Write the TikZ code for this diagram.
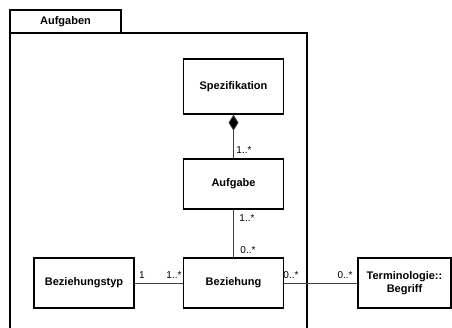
\documentclass[tikz,border=0pt]{standalone}
\usepackage{fontspec}
\setmainfont{Liberation Sans}
\usetikzlibrary{arrows.meta}
\begin{document}
\begin{tikzpicture}[x=1pt,y=-1pt,
  klasse/.style={draw, line width=1.3pt, minimum width=100pt, minimum height=50pt,
    align=center, inner sep=0pt, font=\bfseries\fontsize{11}{12.5}\selectfont},
  verbindung/.style={line width=0.8pt, draw=black!75},
  mult/.style={inner sep=0pt, font=\fontsize{10}{11}\selectfont}]
\useasboundingbox (0,0) rectangle (452,328);

% Paket
\node[draw, line width=1.3pt, minimum width=111pt, minimum height=23pt, inner sep=0pt,
  font=\bfseries\fontsize{11}{12.5}\selectfont] (reiter) at (65.5,21.5) {Aufgaben};
\draw[line width=1.3pt] (10,33) rectangle (307,345);

% Klassen
\node[klasse, minimum height=55pt] (spez) at (233.5,86.5) {Spezifikation};
\node[klasse] (aufgabe) at (233.5,184) {Aufgabe};
\node[klasse] (bez) at (233.5,283) {Beziehung};
\node[klasse] (typ) at (84,283) {Beziehungstyp};
\node[klasse, minimum width=93pt] (begriff) at (404.5,283) {Terminologie::\\Begriff};

% Verbindungen
\draw[verbindung, {Diamond[length=16pt,width=10pt,fill=black]}-] (spez) -- (aufgabe);
\draw[verbindung] (aufgabe) -- (bez);
\draw[verbindung] (typ) -- (bez);
\draw[verbindung] (bez) -- (begriff);

% Multiplizitaeten
\node[mult] (m1) at (244,150) {1..*};
\node[mult] (m2) at (247,218) {1..*};
\node[mult] (m3) at (248,250) {0..*};
\node[mult] (m4) at (142,275) {1};
\node[mult] (m5) at (174,275) {1..*};
\node[mult] (m6) at (291,275) {0..*};
\node[mult] (m7) at (345,275) {0..*};
\end{tikzpicture}
\end{document}
